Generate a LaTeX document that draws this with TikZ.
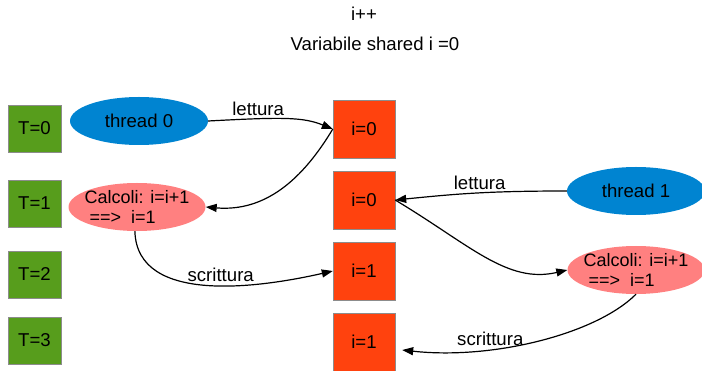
\documentclass[tikz,border=0pt]{standalone}
\usepackage{fontspec}
\setmainfont{Liberation Sans}
\usepackage{xcolor}
\usetikzlibrary{arrows.meta,positioning,shapes.geometric,calc}

\definecolor{tgreen}{HTML}{579D1C}
\definecolor{vorange}{HTML}{FF420E}
\definecolor{thblue}{HTML}{0084D1}
\definecolor{calcpink}{HTML}{FF8080}

\begin{document}
\begin{tikzpicture}[x=1pt, y=-1pt, font=\fontsize{18.6}{20}\selectfont, every node/.style={inner sep=2pt}]
        \tikzset{
            tbox/.style={draw=black!45, fill=tgreen, minimum width=53pt, minimum height=47pt},
            vbox/.style={draw=black!45, fill=vorange, minimum width=62pt, minimum height=58pt},
            thr/.style={ellipse, fill=thblue, minimum width=138pt, minimum height=48pt},
            calc/.style={ellipse, fill=calcpink, align=left, inner xsep=-8pt, inner ysep=-4pt, minimum width=137pt, minimum height=48pt, font=\fontsize{18}{20}\selectfont},
            arr/.style={-{Triangle[length=11pt,width=8pt]}, line width=1.2pt},
            lbl/.style={above, inner sep=3pt}
        }
        \useasboundingbox (0,0) rectangle (702,371);

        % Titles
        \node (op) at (364,14) {i++};
        \node (shared) at (375,44) {Variabile shared i =0};

        % Time steps
        \node[tbox] (t0) at (34.5,128.5) {T=0};
        \node[tbox] (t1) at (34.5,203.5) {T=1};
        \node[tbox] (t2) at (34.5,274.5) {T=2};
        \node[tbox] (t3) at (34.5,340.5) {T=3};

        % Values of the shared variable
        \node[vbox] (ia) at (364,129) {i=0};
        \node[vbox] (ib) at (364,200) {i=0};
        \node[vbox] (ic) at (364,271) {i=1};
        \node[vbox] (id) at (364,342) {i=1};

        % Threads and their work
        \node[thr] (th0) at (139,121) {thread 0};
        \node[calc] (calc0) at (137,207) {Calcoli: i=i+1\\ \hspace{5pt}==>\ \ i=1};
        \node[thr] (th1) at (636,191) {thread 1};
        \node[calc] (calc1) at (636,270) {Calcoli: i=i+1\\ \hspace{5pt}==>\ \ i=1};

        \coordinate (wend) at ($(id.east)+(7,8)$);

        % Thread 0
        \draw[arr] (th0.east) .. controls +(75,-4) and +(-30,-12) .. node[lbl, pos=0.27] {lettura} (ia.west);
        \draw[arr] (ia.west) .. controls +(-30,50) and +(60,5) .. (calc0.east);
        \draw[arr] (calc0.-95) .. controls +(2,75) and +(-70,16) .. node[lbl, pos=0.55] {scrittura} (ic.west);

        % Thread 1
        \draw[arr] (th1.west) .. controls +(-80,0) and +(60,-6) .. node[lbl, pos=0.46] {lettura} (ib.east);
        \draw[arr] (ib.east) .. controls +(75,45) and +(-60,14) .. (calc1.west);
        \draw[arr] (calc1.south) .. controls +(-40,40) and +(90,10) .. node[lbl, pos=0.68] {scrittura} (wend);
    \end{tikzpicture}
\end{document}
